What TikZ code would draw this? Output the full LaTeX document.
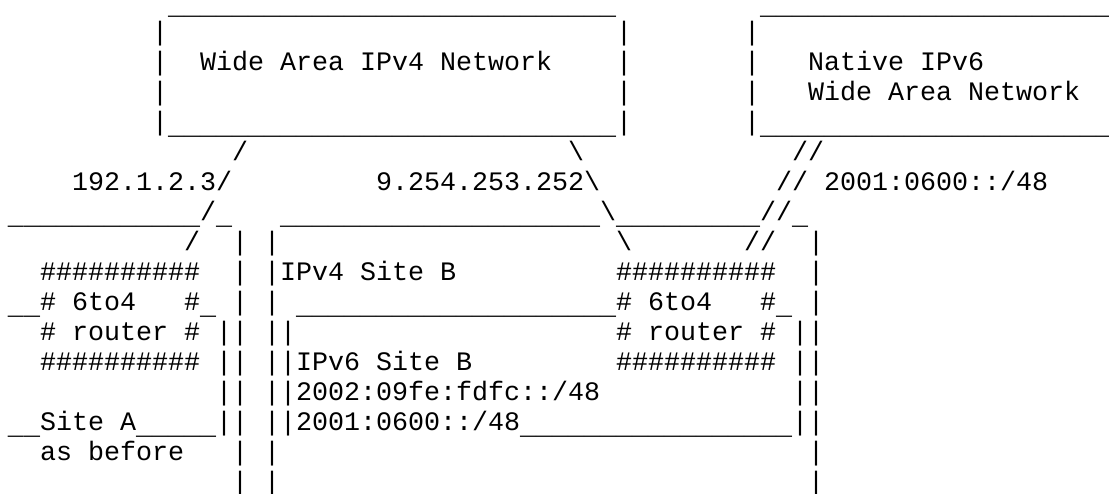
\documentclass[tikz,border=0pt]{standalone}
\usepackage{fontspec}
\newfontfamily\asciifont{Liberation Mono}
\ExplSyntaxOn
\cs_new:Npn \reptxt #1#2 { \prg_replicate:nn {#1} {#2} }
\ExplSyntaxOff
% a run of underscores, set a little lower as in the reference
\newcommand\us[1]{\raisebox{-4pt}{\reptxt{#1}{\_}}}
\tikzset{
  seg/.style={inner sep=0pt, outer sep=0pt, anchor=base west, text=black,
    font={\asciifont\fontsize{26.67pt}{30pt}\selectfont\frenchspacing}},
}
% place a text segment at (row, column) of the character grid
\newcommand\seg[4]{\node[seg] (#1) at ({8+16*#3},{-10-30*#2}) {#4};}
\begin{document}
\begin{tikzpicture}[x=1pt,y=1pt]
\useasboundingbox[fill=white] (0,0) rectangle (1109,-493);
% row 0
\seg{tA}{0}{10}{\us{28}}
\seg{tB}{0}{47}{\us{21}\rlap{\us{1}}}
% row 1
\seg{l1a}{1}{9}{|}
\seg{l1b}{1}{38}{|}
\seg{l1c}{1}{46}{|}
% row 2
\seg{l2a}{2}{9}{|}
\seg{wan4}{2}{12}{Wide Area IPv4 Network}
\seg{l2b}{2}{38}{|}
\seg{l2c}{2}{46}{|}
\seg{wan6a}{2}{50}{Native IPv6}
% row 3
\seg{l3a}{3}{9}{|}
\seg{l3b}{3}{38}{|}
\seg{l3c}{3}{46}{|}
\seg{wan6b}{3}{50}{Wide Area Network}
% row 4
\seg{bA}{4}{9}{|\us{28}|}
\seg{bB}{4}{46}{|\us{21}\rlap{\us{1}}}
% row 5
\seg{s5a}{5}{14}{/}
\seg{s5b}{5}{35}{\textbackslash}
\seg{s5c}{5}{49}{//}
% row 6
\seg{ipA}{6}{4}{192.1.2.3/}
\seg{ipB}{6}{23}{9.254.253.252\textbackslash}
\seg{ipC}{6}{48}{// 2001:0600::/48}
% row 7
\seg{r7a}{7}{0}{\us{12}/\us{1}}
\seg{r7b}{7}{17}{\us{20}\textbackslash\us{9}//\us{1}}
% row 8
\seg{s8a}{8}{11}{/}
\seg{v8a}{8}{14}{| |}
\seg{s8b}{8}{38}{\textbackslash}
\seg{s8c}{8}{46}{//}
\seg{v8b}{8}{50}{|}
% row 9
\seg{h9a}{9}{2}{\reptxt{10}{\#}}
\seg{v9a}{9}{14}{| |IPv4 Site B}
\seg{h9b}{9}{38}{\reptxt{10}{\#}}
\seg{v9b}{9}{50}{|}
% row 10
\seg{r10a}{10}{0}{\us{2}\# 6to4}
\seg{r10b}{10}{11}{\#\us{1}}
\seg{v10a}{10}{14}{| |}
\seg{r10c}{10}{18}{\us{20}\# 6to4}
\seg{r10d}{10}{47}{\#\us{1}}
\seg{v10b}{10}{50}{|}
% row 11
\seg{rtA}{11}{2}{\# router \#}
\seg{v11a}{11}{13}{|| ||}
\seg{rtB}{11}{38}{\# router \#}
\seg{v11b}{11}{49}{||}
% row 12
\seg{h12a}{12}{2}{\reptxt{10}{\#}}
\seg{v12a}{12}{13}{|| ||IPv6 Site B}
\seg{h12b}{12}{38}{\reptxt{10}{\#}}
\seg{v12b}{12}{49}{||}
% row 13
\seg{v13a}{13}{13}{|| ||2002:09fe:fdfc::/48}
\seg{v13b}{13}{49}{||}
% row 14
\seg{siteA}{14}{0}{\us{2}Site A\us{5}||}
\seg{r14b}{14}{16}{||2001:0600::/48\us{17}||}
% row 15
\seg{asb}{15}{2}{as before}
\seg{v15a}{15}{14}{| |}
\seg{v15b}{15}{50}{|}
% row 16
\seg{v16a}{16}{14}{| |}
\seg{v16b}{16}{50}{|}
\end{tikzpicture}
\end{document}
